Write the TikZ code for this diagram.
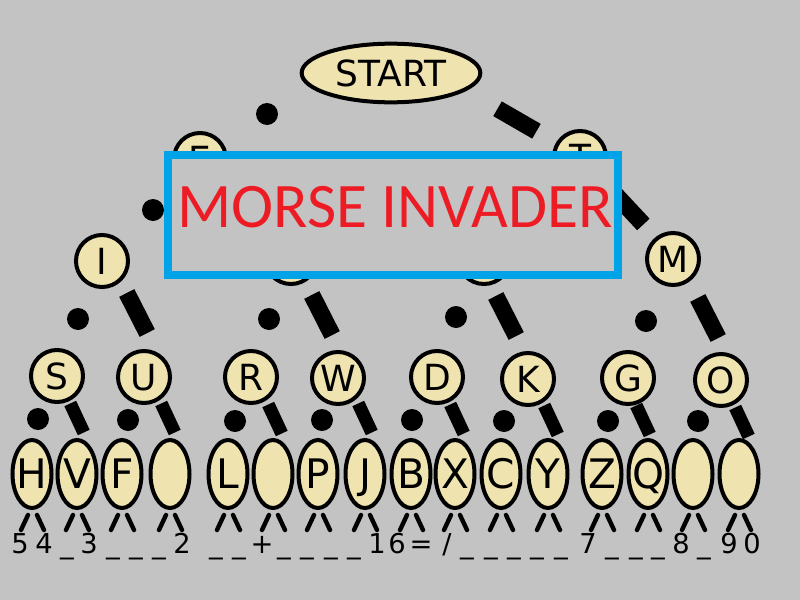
\documentclass[tikz,border=0pt]{standalone}
\usepackage{fontspec}
\setmainfont{DejaVu Sans}
\newfontfamily\titlefont{Carlito}
\usetikzlibrary{shapes.geometric}
\definecolor{bg}{HTML}{C3C3C3}
\definecolor{nodefill}{HTML}{EFE4B0}
\definecolor{boxblue}{HTML}{00A2E8}
\definecolor{titlered}{HTML}{ED1C24}
\begin{document}
\begin{tikzpicture}[x=0.75pt,y=-0.75pt,
  letter/.style={circle, draw=black, line width=3pt, fill=nodefill, minimum size=39pt, inner sep=0pt,
    text height=19.5pt, text depth=0pt, font=\fontsize{27}{27}\selectfont},
  leaf/.style={ellipse, draw=black, line width=3pt, fill=nodefill, minimum width=29.25pt, minimum height=51pt,
    inner sep=0pt, text height=22pt, text depth=0pt, font=\fontsize{30.5}{30.5}\selectfont},
  startnode/.style={ellipse, draw=black, line width=3pt, fill=nodefill, minimum width=134pt, minimum height=44pt,
    inner sep=0pt, text height=19.5pt, text depth=0pt, font=\fontsize{27}{27}\selectfont},
  dotm/.style={circle, fill=black, minimum size=16.5pt, inner sep=0pt},
  dashm/.style={rectangle, fill=black, minimum width=33.75pt, minimum height=12.75pt, inner sep=0pt},
  smalldash/.style={rectangle, fill=black, minimum width=24pt, minimum height=9.75pt, inner sep=0pt},
  tick/.style={line width=3.3pt, line cap=round},
  digit/.style={anchor=base, inner sep=0pt, font=\fontsize{20.5}{20.5}\selectfont},
  titlebox/.style={rectangle, draw=boxblue, line width=6pt, fill=bg, minimum width=337.5pt, minimum height=90pt, inner sep=0pt},
  titletext/.style={inner sep=0pt, text height=30.5pt, text depth=0pt, text=titlered, font=\titlefont\fontsize{47.6}{47.6}\selectfont}]
\useasboundingbox (0,0) rectangle (800,600);
\fill[bg] (0,0) rectangle (800,600);

% root
\node[startnode] (start) at (391,73) {START};

% level 1
\node[letter] (E) at (200,159) {\makebox[0pt]{E}};
\node[letter] (T) at (580,157) {\makebox[0pt]{T}};

% level 2
\node[letter] (I) at (102,261) {\makebox[0pt]{I}};
\node[letter] (A) at (291,258) {\makebox[0pt]{A}};
\node[letter] (N) at (484,258) {\makebox[0pt]{N}};
\node[letter] (M) at (673,259) {\makebox[0pt]{M}};

% level 3
\foreach \nm/\x/\y in {S/57/376, U/144/377, R/251/377, W/338/378, D/437/377, K/528/379, G/628/378, O/721/380}
  \node[letter] (\nm) at (\x,\y) {\makebox[0pt]{\nm}};

% level 4 leaves
\foreach \nm/\x/\t in {H/32/H, V/77/V, F/122/F, UE/170/{}, L/228/L, AE/273/{}, P/318/P, J/365/J,
                       B/411/B, X/455/X, C/501/C, Y/548/Y, Z/602/Z, Q/648/Q, OE/693/{}, CH/739/{}}
  \node[leaf] (\nm) at (\x,474) {\makebox[0pt]{\t}};

% dots and dashes, root level
\node[dotm] (dotE) at (267,114) {};
\node[dashm, rotate=-30] (dashT) at (517,120) {};

% level 1 -> level 2
\node[dotm] (dotI) at (153,210) {};
\node[dashm, rotate=-47] (dashA) at (248,210) {};
\node[dotm] (dotN) at (528,208) {};
\node[dashm, rotate=-47] (dashM) at (628,208) {};

% level 2 -> level 3
\node[dotm] (dotS) at (78,319) {};
\node[dashm, rotate=-63] (dashU) at (137,313) {};
\node[dotm] (dotR) at (269,319) {};
\node[dashm, rotate=-63] (dashW) at (322,315) {};
\node[dotm] (dotD) at (456,317) {};
\node[dashm, rotate=-63] (dashK) at (506,316) {};
\node[dotm] (dotG) at (646,321) {};
\node[dashm, rotate=-63] (dashO) at (708,318) {};

% level 3 -> level 4
\foreach \nm/\dx/\dy/\sx/\sy in {S/38/419/77/418, U/128/420/168/418, R/235/421/275/419, W/322/420/365/418,
                                 D/412/420/457/419, K/504/421/551/420, G/608/421/643/420, O/698/421/742/422}{
  \node[dotm] (dot\nm) at (\dx,\dy) {};
  \node[smalldash, rotate=-65] (dash\nm) at (\sx,\sy) {};
}

% ticks under leaves
\foreach \nm in {H,V,F,UE,L,AE,P,J,B,X,C,Y,Z,Q,OE,CH}{
  \draw[tick] ([shift={(-4,41)}]\nm.center) -- ([shift={(-11,56)}]\nm.center);
  \draw[tick] ([shift={(5,41)}]\nm.center) -- ([shift={(12,56)}]\nm.center);
}

% bottom characters
\foreach \x/\c [count=\i] in {20/5, 44/4, 67/\_, 89/3, 113/\_, 136/\_, 159/\_, 182/2,
    216/\_, 239/\_, 262/+, 284/\_, 307/\_, 331/\_, 354/\_, 377/1,
    397/6, 421/=, 447/\symbol{47}, 467/\_, 491/\_, 514/\_, 537/\_, 561/\_,
    588/7, 612/\_, 636/\_, 658/\_, 681/8, 704/\_, 729/9, 752/0}
  \node[digit] (c\i) at (\x,553) {\c};

% title box on top
\node[titlebox] (box) at (393,215) {};
\node[titletext] (title) at (395,207) {MORSE INVADER};
\end{tikzpicture}
\end{document}
